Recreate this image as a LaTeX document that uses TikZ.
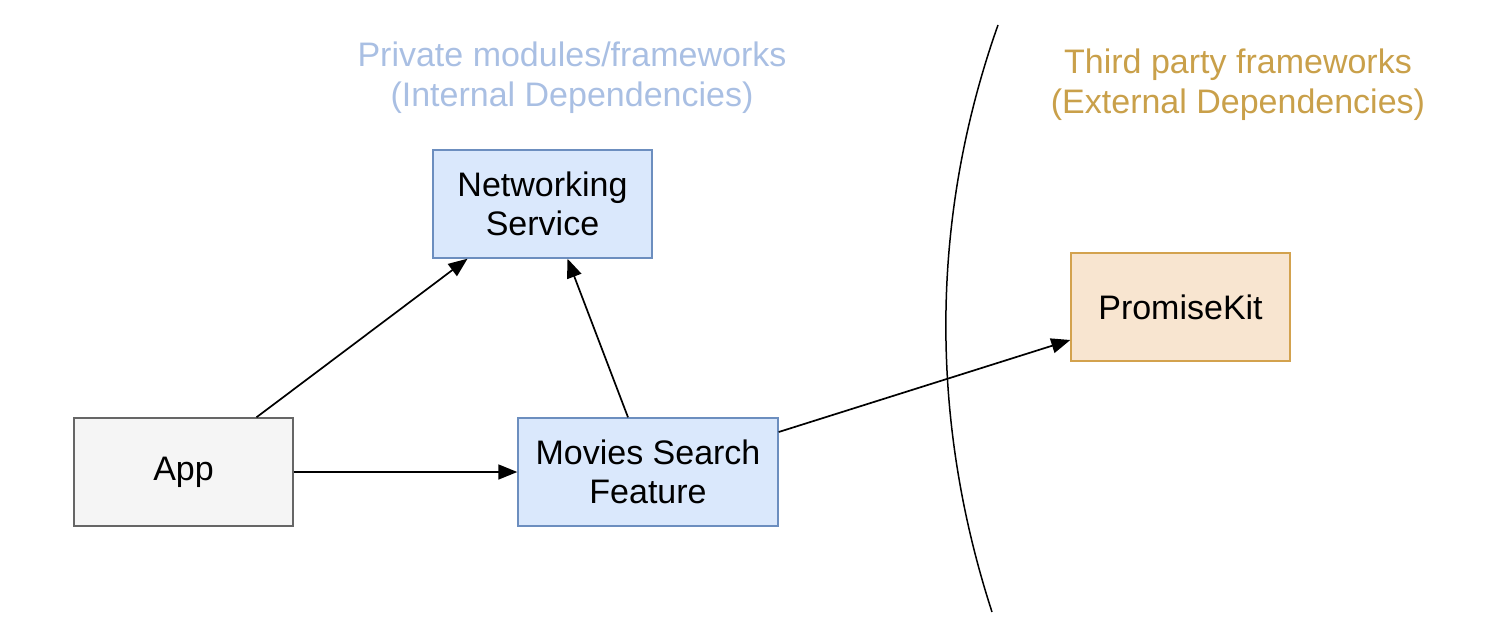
\documentclass[tikz,border=0pt]{standalone}
\usepackage{fontspec}
\setmainfont{Liberation Sans}
\usetikzlibrary{positioning,arrows.meta}
\definecolor{privFill}{HTML}{DAE8FC}
\definecolor{privLine}{HTML}{6C8EBF}
\definecolor{privText}{HTML}{A9BFE3}
\definecolor{extFill}{HTML}{F8E5D0}
\definecolor{extLine}{HTML}{D3A24E}
\definecolor{extText}{HTML}{C9A04A}
\definecolor{appFill}{HTML}{F5F5F5}
\definecolor{appLine}{HTML}{666666}
\tikzset{
  >={Triangle[length=19pt,width=15pt]},
  my box/.style={
    draw,
    rectangle,
    line width=1.4pt,
    minimum width=219pt,
    minimum height=108pt,
    inner sep=0pt,
    align=center,
    font=\fontsize{34}{39}\selectfont
  },
  my private/.style={my box,fill=privFill,draw=privLine},
  my external/.style={my box,fill=extFill,draw=extLine},
  my app/.style={my box,fill=appFill,draw=appLine},
  my title/.style={
    align=center,
    inner sep=0pt,
    font=\fontsize{34}{40}\selectfont
  },
  my dep/.style={->,line width=1.7pt}
}

\begin{document}
\begin{tikzpicture}[x=1pt,y=-1pt]
\useasboundingbox (0,0) rectangle (1486,640);
\node[my title,text=privText] (intTitle) at (572,78) {Private modules/frameworks\\(Internal Dependencies)};
\node[my title,text=extText] (extTitle) at (1238,85) {Third party frameworks\\(External Dependencies)};
\node[my private] (net) at (542.5,204) {Networking\\Service};
\node[my external] (promise) at (1180.5,307) {PromiseKit};
\node[my app] (app) at (183.5,472) {App};
\node[my private,minimum width=260pt] (movies) at (648,472) {Movies Search\\Feature};
% the boundary between internal and external
\draw[line width=1.5pt] (998,25) .. controls (929,220) and (930,421) .. (992,612);
\draw[my dep] ([xshift=73pt]app.north) -- ([xshift=-75pt]net.south);
\draw[my dep] ([xshift=-20pt]movies.north) -- ([xshift=25pt]net.south);
\draw[my dep] (app.east) -- (movies.west);
\draw[my dep] ([yshift=40pt]movies.east) -- ([yshift=-33pt]promise.west);
\end{tikzpicture}
\end{document}
